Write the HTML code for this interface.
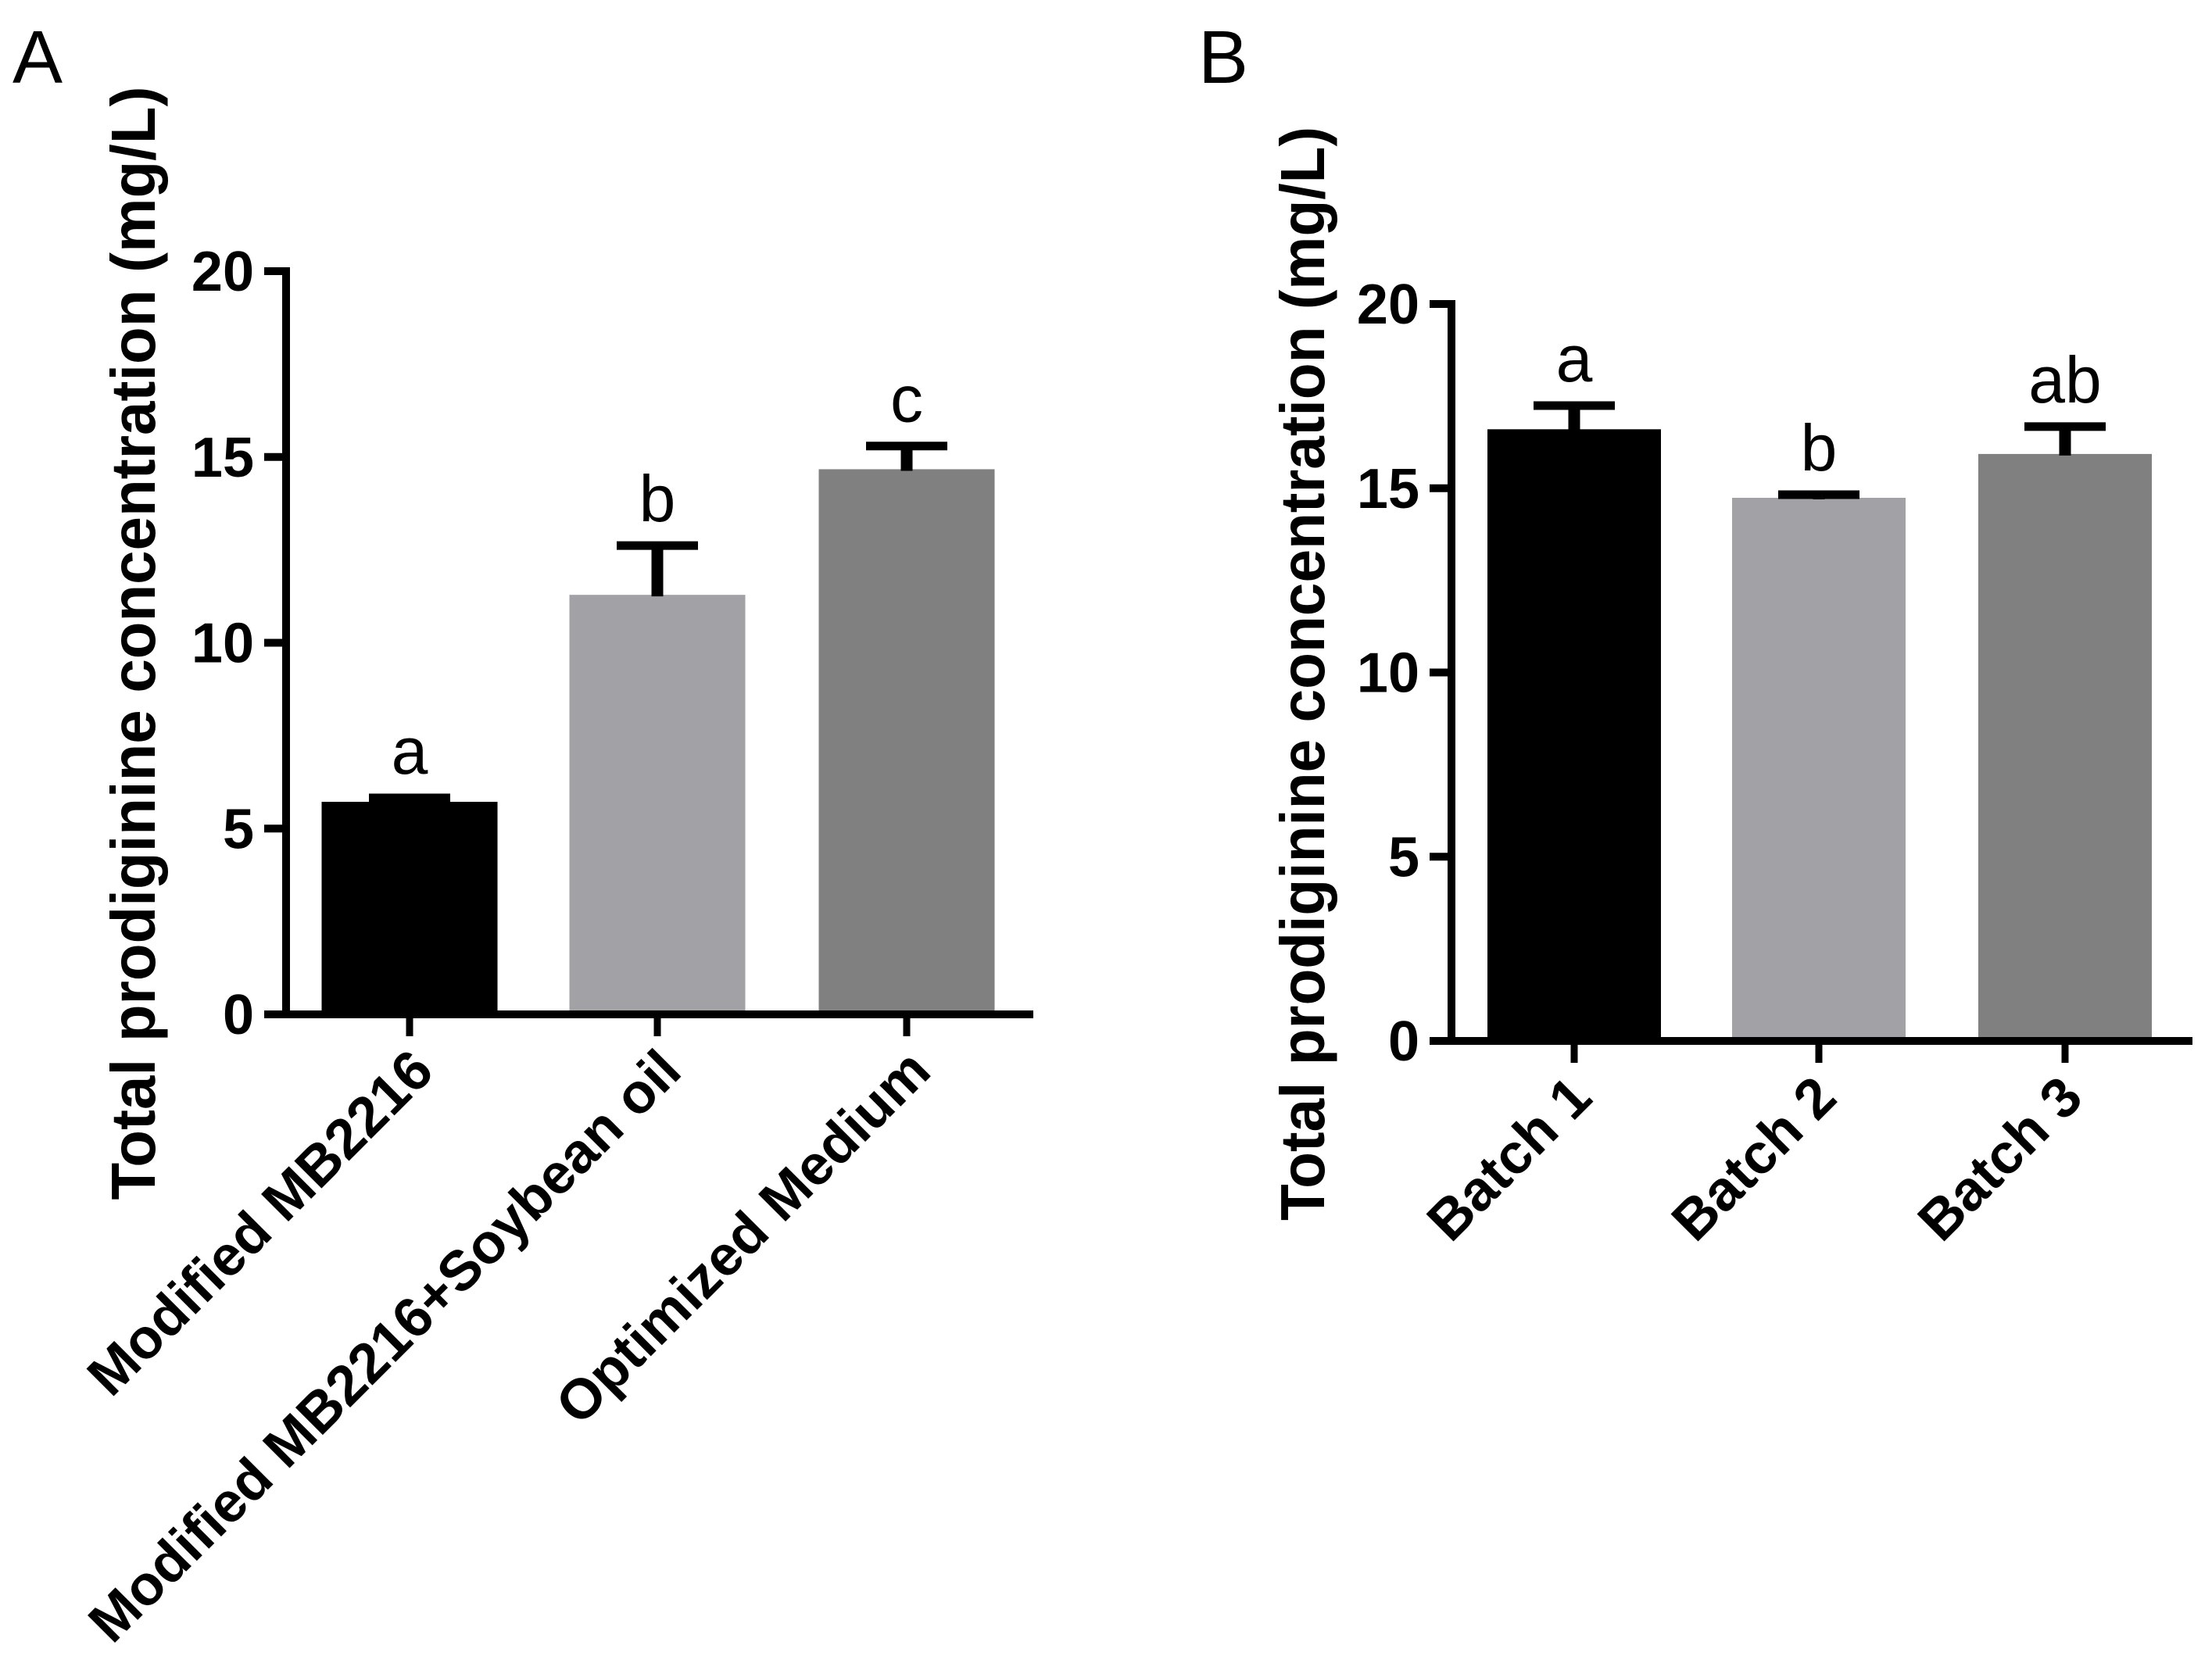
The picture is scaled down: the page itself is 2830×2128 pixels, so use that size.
<!DOCTYPE html>
<html><head><meta charset="utf-8"><style>
html,body{margin:0;padding:0;background:#fff}
svg{display:block;font-family:"Liberation Sans",Arial,sans-serif}
</style></head><body>
<svg id="fig" width="2830" height="2128" viewBox="0 0 2830 2128" xmlns="http://www.w3.org/2000/svg">
<text x="16" y="106" font-size="96">A</text>
<text x="1533" y="106" font-size="96">B</text>
<g id="pa"></g>
<g id="pb"></g>
</svg>
<script>
const catsA = ["Modified MB2216","Modified MB2216+Soybean oil","Optimized Medium"];
const valsA = [5.72, 11.29, 14.67];
const errA = [0.21, 1.43, 0.73];
const sigA = ["a","b","c"];
const catsB = ["Batch 1","Batch 2","Batch 3"];
const valsB = [16.6, 14.74, 15.93];
const errB = [0.75, 0.19, 0.85];
const sigB = ["a","b","ab"];
const ticks = [0,5,10,15,20];
const colors = ["#000000","#a2a2a6","#808080"];

const NS="http://www.w3.org/2000/svg";
function mk(p,t,a){const e=document.createElementNS(NS,t);for(const k in a)e.setAttribute(k,a[k]);p.appendChild(e);return e;}

function draw(g, cfg, cats, vals, errs, sig, tag){
  const y = v => cfg.y0 - (cfg.y0-cfg.y20)*v/20;
  const xc = i => cfg.cx[i];
  vals.forEach((v,i)=>{
    const r=mk(g,'rect',{x:xc(i)-cfg.bw/2,y:y(v),width:cfg.bw,height:cfg.y0-y(v),fill:colors[i]});
    
    
    const top=y(v+errs[i]);
    const s=mk(g,'line',{x1:xc(i),x2:xc(i),y1:y(v)+2,y2:top,stroke:'#000','stroke-width':15});
    
    
    const c=mk(g,'line',{x1:xc(i)-52,x2:xc(i)+52,y1:top+5,y2:top+5,stroke:'#000','stroke-width':11});
    
    
    const t=mk(g,'text',{x:xc(i),y:top-26,'font-size':84,'text-anchor':'middle'});
    t.textContent=sig[i];
    
    
    const tk=mk(g,'line',{x1:xc(i),x2:xc(i),y1:cfg.y0,y2:cfg.y0+28,stroke:'#000','stroke-width':9});
    
    
    const lx=xc(i)+cfg.lxo, ly=cfg.y0+cfg.lyo;
    const l=mk(g,'text',{x:lx,y:ly,'font-size':72,'font-weight':'bold','text-anchor':'end',transform:`rotate(-45 ${lx} ${ly})`});
    l.textContent=cats[i];
    
    
  });
  const ya=mk(g,'line',{x1:cfg.ax,x2:cfg.ax,y1:y(20)-5,y2:cfg.y0+4,stroke:'#000','stroke-width':10});
  
  
  const xa=mk(g,'line',{x1:cfg.ax-5,x2:cfg.xr,y1:cfg.y0,y2:cfg.y0,stroke:'#000','stroke-width':10});
  
  
  ticks.forEach(v=>{
    const tl=mk(g,'line',{x1:cfg.ax-28,x2:cfg.ax,y1:y(v),y2:y(v),stroke:'#000','stroke-width':10});
    
    
    const tt=mk(g,'text',{x:cfg.ax-41,y:y(v)+25,'font-size':72,'font-weight':'bold','text-anchor':'end'});
    tt.textContent=v;
    
    
  });
  const yt=mk(g,'text',{x:cfg.tx,y:cfg.ty,'font-size':80,'font-weight':'bold','text-anchor':'middle',textLength:cfg.tl,lengthAdjust:'spacingAndGlyphs',transform:`rotate(-90 ${cfg.tx} ${cfg.ty})`});
  yt.textContent="Total prodiginine concentration (mg/L)";
  
  
}
draw(document.getElementById('pa'),{y0:1298,y20:347,ax:366,xr:1322,bw:225,cx:[524,841,1160],tx:198,ty:823,tl:1425,lxo:34,lyo:76},catsA,valsA,errA,sigA,'a');
draw(document.getElementById('pb'),{y0:1332,y20:389,ax:1857,xr:2805,bw:222,cx:[2014,2327,2642],tx:1694,ty:862,tl:1400,lxo:26,lyo:76},catsB,valsB,errB,sigB,'b');
</script>
</body></html>
